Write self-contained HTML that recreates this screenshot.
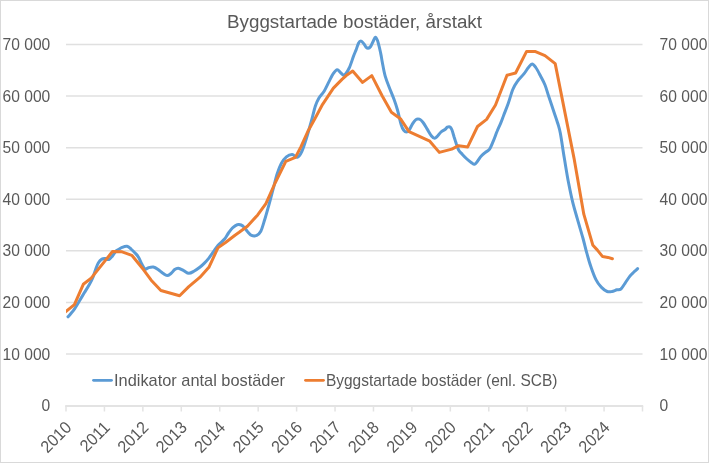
<!DOCTYPE html>
<html><head><meta charset="utf-8"><style>
html,body{margin:0;padding:0;background:#fff;}
body{width:709px;height:463px;overflow:hidden;position:relative;}
.frame{position:absolute;left:0;top:0;width:707px;height:461px;border:1px solid #d9d9d9;}
svg{position:absolute;left:0;top:0;}
.wrap{position:absolute;left:0;top:0;width:709px;height:463px;background:#fff;will-change:transform;}
text{font-family:"Liberation Sans", sans-serif;fill:#595959;}
</style></head><body>
<div class="wrap"><svg width="709" height="463" viewBox="0 0 709 463">
<line x1="66.0" y1="354.01" x2="642.5" y2="354.01" stroke="#e0e0e0" stroke-width="1.5"/>
<line x1="66.0" y1="302.43" x2="642.5" y2="302.43" stroke="#e0e0e0" stroke-width="1.5"/>
<line x1="66.0" y1="250.84" x2="642.5" y2="250.84" stroke="#e0e0e0" stroke-width="1.5"/>
<line x1="66.0" y1="199.26" x2="642.5" y2="199.26" stroke="#e0e0e0" stroke-width="1.5"/>
<line x1="66.0" y1="147.67" x2="642.5" y2="147.67" stroke="#e0e0e0" stroke-width="1.5"/>
<line x1="66.0" y1="96.09" x2="642.5" y2="96.09" stroke="#e0e0e0" stroke-width="1.5"/>
<line x1="66.0" y1="44.50" x2="642.5" y2="44.50" stroke="#e0e0e0" stroke-width="1.5"/>
<line x1="65.2" y1="406" x2="643.2" y2="406" stroke="#e3e3e3" stroke-width="2"/>
<line x1="66.00" y1="406" x2="66.00" y2="411.5" stroke="#e3e3e3" stroke-width="1.5"/>
<line x1="104.43" y1="406" x2="104.43" y2="411.5" stroke="#e3e3e3" stroke-width="1.5"/>
<line x1="142.87" y1="406" x2="142.87" y2="411.5" stroke="#e3e3e3" stroke-width="1.5"/>
<line x1="181.30" y1="406" x2="181.30" y2="411.5" stroke="#e3e3e3" stroke-width="1.5"/>
<line x1="219.73" y1="406" x2="219.73" y2="411.5" stroke="#e3e3e3" stroke-width="1.5"/>
<line x1="258.17" y1="406" x2="258.17" y2="411.5" stroke="#e3e3e3" stroke-width="1.5"/>
<line x1="296.60" y1="406" x2="296.60" y2="411.5" stroke="#e3e3e3" stroke-width="1.5"/>
<line x1="335.03" y1="406" x2="335.03" y2="411.5" stroke="#e3e3e3" stroke-width="1.5"/>
<line x1="373.47" y1="406" x2="373.47" y2="411.5" stroke="#e3e3e3" stroke-width="1.5"/>
<line x1="411.90" y1="406" x2="411.90" y2="411.5" stroke="#e3e3e3" stroke-width="1.5"/>
<line x1="450.33" y1="406" x2="450.33" y2="411.5" stroke="#e3e3e3" stroke-width="1.5"/>
<line x1="488.77" y1="406" x2="488.77" y2="411.5" stroke="#e3e3e3" stroke-width="1.5"/>
<line x1="527.20" y1="406" x2="527.20" y2="411.5" stroke="#e3e3e3" stroke-width="1.5"/>
<line x1="565.63" y1="406" x2="565.63" y2="411.5" stroke="#e3e3e3" stroke-width="1.5"/>
<line x1="604.07" y1="406" x2="604.07" y2="411.5" stroke="#e3e3e3" stroke-width="1.5"/>
<line x1="642.50" y1="406" x2="642.50" y2="411.5" stroke="#e3e3e3" stroke-width="1.5"/>
<text transform="translate(50.3,411.20) scale(0.92,1)" text-anchor="end" font-size="17">0</text>
<text transform="translate(659.6,411.20) scale(0.92,1)" font-size="17">0</text>
<text transform="translate(50.3,359.61) scale(0.92,1)" text-anchor="end" font-size="17">10 000</text>
<text transform="translate(659.6,359.61) scale(0.92,1)" font-size="17">10 000</text>
<text transform="translate(50.3,308.03) scale(0.92,1)" text-anchor="end" font-size="17">20 000</text>
<text transform="translate(659.6,308.03) scale(0.92,1)" font-size="17">20 000</text>
<text transform="translate(50.3,256.44) scale(0.92,1)" text-anchor="end" font-size="17">30 000</text>
<text transform="translate(659.6,256.44) scale(0.92,1)" font-size="17">30 000</text>
<text transform="translate(50.3,204.86) scale(0.92,1)" text-anchor="end" font-size="17">40 000</text>
<text transform="translate(659.6,204.86) scale(0.92,1)" font-size="17">40 000</text>
<text transform="translate(50.3,153.27) scale(0.92,1)" text-anchor="end" font-size="17">50 000</text>
<text transform="translate(659.6,153.27) scale(0.92,1)" font-size="17">50 000</text>
<text transform="translate(50.3,101.69) scale(0.92,1)" text-anchor="end" font-size="17">60 000</text>
<text transform="translate(659.6,101.69) scale(0.92,1)" font-size="17">60 000</text>
<text transform="translate(50.3,50.10) scale(0.92,1)" text-anchor="end" font-size="17">70 000</text>
<text transform="translate(659.6,50.10) scale(0.92,1)" font-size="17">70 000</text>
<text transform="translate(68.54,424.46) rotate(-45) scale(0.94,1)" text-anchor="end" font-size="17" dy="5.8">2010</text>
<text transform="translate(106.97,424.46) rotate(-45) scale(0.94,1)" text-anchor="end" font-size="17" dy="5.8">2011</text>
<text transform="translate(145.41,424.46) rotate(-45) scale(0.94,1)" text-anchor="end" font-size="17" dy="5.8">2012</text>
<text transform="translate(183.84,424.46) rotate(-45) scale(0.94,1)" text-anchor="end" font-size="17" dy="5.8">2013</text>
<text transform="translate(222.27,424.46) rotate(-45) scale(0.94,1)" text-anchor="end" font-size="17" dy="5.8">2014</text>
<text transform="translate(260.71,424.46) rotate(-45) scale(0.94,1)" text-anchor="end" font-size="17" dy="5.8">2015</text>
<text transform="translate(299.14,424.46) rotate(-45) scale(0.94,1)" text-anchor="end" font-size="17" dy="5.8">2016</text>
<text transform="translate(337.57,424.46) rotate(-45) scale(0.94,1)" text-anchor="end" font-size="17" dy="5.8">2017</text>
<text transform="translate(376.01,424.46) rotate(-45) scale(0.94,1)" text-anchor="end" font-size="17" dy="5.8">2018</text>
<text transform="translate(414.44,424.46) rotate(-45) scale(0.94,1)" text-anchor="end" font-size="17" dy="5.8">2019</text>
<text transform="translate(452.87,424.46) rotate(-45) scale(0.94,1)" text-anchor="end" font-size="17" dy="5.8">2020</text>
<text transform="translate(491.31,424.46) rotate(-45) scale(0.94,1)" text-anchor="end" font-size="17" dy="5.8">2021</text>
<text transform="translate(529.74,424.46) rotate(-45) scale(0.94,1)" text-anchor="end" font-size="17" dy="5.8">2022</text>
<text transform="translate(568.17,424.46) rotate(-45) scale(0.94,1)" text-anchor="end" font-size="17" dy="5.8">2023</text>
<text transform="translate(606.61,424.46) rotate(-45) scale(0.94,1)" text-anchor="end" font-size="17" dy="5.8">2024</text>
<text x="227" y="27.9" font-size="18" textLength="255" lengthAdjust="spacingAndGlyphs">Byggstartade bostäder, årstakt</text>
<line x1="93.5" y1="380.35" x2="111.5" y2="380.35" stroke="#5b9bd5" stroke-width="2.8" stroke-linecap="round"/>
<text x="114.0" y="386.15" font-size="15.9" textLength="171" lengthAdjust="spacingAndGlyphs">Indikator antal bostäder</text>
<line x1="305.5" y1="380.35" x2="323.5" y2="380.35" stroke="#ed7d31" stroke-width="2.8" stroke-linecap="round"/>
<text x="325.9" y="386.15" font-size="15.9" textLength="231.5" lengthAdjust="spacingAndGlyphs">Byggstartade bostäder (enl. SCB)</text>
<path d="M68.0 316.8 C68.5 316.2 69.8 314.8 70.9 313.5 C72.0 312.2 73.1 311.0 74.4 309.1 C75.7 307.2 77.2 304.7 78.8 302.0 C80.4 299.3 82.3 296.1 84.1 293.1 C85.9 290.2 88.0 287.0 89.5 284.3 C91.0 281.6 92.0 279.7 93.0 277.2 C94.0 274.7 94.8 271.6 95.7 269.2 C96.6 266.8 97.3 264.7 98.3 263.0 C99.3 261.3 100.7 259.8 101.9 259.1 C103.1 258.4 104.2 258.5 105.4 258.6 C106.6 258.7 107.7 259.9 108.9 259.5 C110.1 259.1 111.3 257.3 112.5 255.9 C113.7 254.5 115.1 252.0 116.0 251.0 C116.9 250.0 117.0 250.4 118.0 249.8 C119.0 249.2 120.6 248.0 122.1 247.4 C123.6 246.8 125.5 246.0 127.0 246.3 C128.5 246.6 129.7 247.9 131.1 249.1 C132.5 250.2 134.0 251.8 135.3 253.2 C136.6 254.6 137.7 255.7 138.7 257.4 C139.7 259.1 140.4 261.7 141.5 263.6 C142.6 265.6 143.8 268.4 145.0 269.1 C146.2 269.8 147.0 268.1 148.4 267.7 C149.8 267.3 151.7 266.7 153.3 267.0 C154.9 267.3 156.5 268.4 158.1 269.5 C159.7 270.6 161.4 272.3 162.9 273.3 C164.4 274.3 165.7 275.6 167.1 275.6 C168.5 275.6 169.9 274.3 171.2 273.3 C172.5 272.3 173.5 270.4 174.7 269.5 C175.9 268.6 176.9 268.1 178.3 268.2 C179.7 268.3 181.6 269.5 183.3 270.4 C185.1 271.2 187.0 273.2 188.8 273.3 C190.6 273.4 192.5 272.0 194.3 271.0 C196.1 270.0 198.1 268.6 199.8 267.3 C201.5 266.0 202.9 264.6 204.4 263.1 C205.9 261.6 207.4 260.0 208.9 258.1 C210.4 256.2 212.0 253.8 213.5 251.7 C215.0 249.6 216.2 247.5 218.1 245.3 C220.0 243.2 223.1 240.9 224.8 238.8 C226.5 236.8 227.2 234.8 228.5 233.0 C229.8 231.2 231.2 229.2 232.4 228.0 C233.6 226.8 234.4 226.2 235.5 225.6 C236.6 225.0 237.6 224.5 238.9 224.6 C240.2 224.7 241.8 225.2 243.2 226.3 C244.6 227.5 246.0 230.0 247.4 231.5 C248.8 233.0 249.9 234.8 251.5 235.4 C253.1 236.1 255.1 236.1 256.7 235.4 C258.2 234.7 259.4 234.0 260.8 231.3 C262.2 228.6 263.5 223.4 264.9 219.0 C266.3 214.6 267.6 209.6 269.0 204.6 C270.4 199.6 271.7 194.3 273.1 189.2 C274.5 184.1 275.8 178.1 277.2 173.8 C278.6 169.5 279.8 166.3 281.3 163.5 C282.8 160.7 284.6 158.4 286.4 156.9 C288.2 155.4 290.5 154.5 292.3 154.6 C294.1 154.7 295.7 157.8 297.3 157.3 C298.9 156.8 300.3 154.7 301.8 151.5 C303.3 148.3 305.0 142.8 306.5 138.0 C308.0 133.2 309.5 127.8 311.0 122.5 C312.5 117.2 314.0 110.3 315.3 106.2 C316.6 102.1 317.6 100.4 319.0 98.0 C320.4 95.6 321.9 94.7 323.6 92.0 C325.3 89.3 327.4 84.7 329.0 81.6 C330.6 78.5 332.0 75.4 333.4 73.4 C334.8 71.4 335.9 69.8 337.2 69.7 C338.4 69.6 339.7 72.1 340.9 73.0 C342.1 73.9 342.8 75.9 344.2 75.1 C345.6 74.3 347.7 71.1 349.2 68.0 C350.7 64.9 352.3 59.5 353.4 56.5 C354.5 53.5 355.1 52.3 356.0 50.1 C356.9 47.9 357.7 44.7 358.5 43.2 C359.3 41.7 360.0 41.1 360.9 41.1 C361.8 41.1 362.8 42.5 363.6 43.5 C364.5 44.5 365.2 46.3 366.0 47.1 C366.8 47.9 367.3 48.4 368.1 48.3 C368.9 48.2 369.8 47.6 370.6 46.5 C371.4 45.4 372.2 43.2 373.0 41.7 C373.8 40.2 374.6 37.4 375.4 37.2 C376.1 37.0 376.9 39.0 377.5 40.5 C378.1 42.0 378.4 43.7 379.0 45.9 C379.6 48.1 380.2 51.1 380.8 53.8 C381.4 56.5 381.6 58.6 382.3 62.3 C383.0 66.0 384.0 72.0 385.2 76.2 C386.4 80.4 387.8 83.7 389.3 87.5 C390.8 91.3 392.6 95.5 394.0 99.2 C395.4 103.0 396.3 105.7 397.5 110.0 C398.7 114.3 400.1 121.4 401.2 124.8 C402.2 128.2 402.9 129.1 403.8 130.3 C404.7 131.5 405.5 132.0 406.4 132.0 C407.3 132.0 408.0 131.7 409.0 130.3 C410.0 129.0 411.4 125.7 412.5 123.9 C413.6 122.1 414.8 120.4 415.9 119.6 C417.0 118.8 418.2 118.8 419.4 119.2 C420.6 119.6 421.6 120.6 422.9 122.2 C424.2 123.8 425.8 126.8 427.2 129.1 C428.6 131.4 430.3 134.5 431.5 136.0 C432.7 137.5 433.6 138.3 434.6 138.3 C435.6 138.3 436.5 137.1 437.6 136.0 C438.7 134.9 439.8 133.1 441.0 132.0 C442.2 130.9 443.9 130.3 445.0 129.5 C446.1 128.7 446.5 127.6 447.3 127.2 C448.1 126.8 449.1 126.5 449.8 126.9 C450.6 127.3 451.1 127.8 451.8 129.5 C452.5 131.2 453.4 134.6 454.1 137.0 C454.9 139.4 455.6 141.7 456.3 143.8 C457.1 146.0 457.6 148.1 458.6 149.9 C459.6 151.7 461.0 152.9 462.4 154.4 C463.8 155.9 465.4 157.6 466.9 159.0 C468.4 160.4 470.2 161.8 471.5 162.7 C472.8 163.6 473.5 164.6 474.5 164.3 C475.5 164.1 476.4 162.6 477.5 161.2 C478.6 159.8 480.0 157.3 481.3 155.9 C482.6 154.5 483.7 153.7 485.1 152.6 C486.5 151.5 488.2 151.1 489.6 149.1 C491.0 147.1 492.1 143.8 493.4 140.8 C494.7 137.8 495.9 134.0 497.2 131.0 C498.4 128.0 499.8 125.3 500.9 122.7 C502.0 120.1 502.5 118.4 503.7 115.2 C504.9 112.0 506.8 107.6 508.3 103.3 C509.8 99.0 511.3 93.2 512.8 89.5 C514.3 85.8 515.5 83.9 517.4 81.3 C519.2 78.7 522.1 76.2 523.9 73.9 C525.7 71.6 527.0 69.2 528.4 67.5 C529.8 65.8 530.9 63.9 532.1 63.9 C533.3 63.9 534.4 65.5 535.8 67.5 C537.2 69.5 538.9 72.9 540.4 75.8 C541.9 78.7 543.6 81.6 545.0 85.0 C546.4 88.4 547.2 91.9 548.6 96.0 C550.0 100.1 551.7 105.1 553.2 109.7 C554.7 114.3 556.6 119.5 557.8 123.5 C559.0 127.5 559.3 127.7 560.4 133.5 C561.5 139.3 562.9 149.8 564.3 158.1 C565.7 166.3 567.1 175.4 568.6 183.0 C570.1 190.6 571.5 197.5 573.0 203.4 C574.5 209.3 575.6 212.8 577.3 218.6 C578.9 224.4 581.3 232.2 582.9 238.0 C584.5 243.8 585.5 248.6 586.9 253.4 C588.2 258.2 589.5 262.8 591.0 267.1 C592.5 271.4 594.0 275.9 595.8 279.3 C597.5 282.7 599.6 285.4 601.5 287.4 C603.4 289.4 605.5 290.8 607.2 291.5 C609.0 292.2 610.4 291.8 612.0 291.5 C613.6 291.2 615.4 290.2 616.9 289.8 C618.4 289.4 619.5 290.1 620.9 289.0 C622.2 287.9 623.5 285.4 625.0 283.3 C626.5 281.2 628.4 278.0 629.9 276.1 C631.4 274.2 632.6 273.2 633.9 272.0 C635.2 270.8 637.0 269.2 637.6 268.6" fill="none" stroke="#5b9bd5" stroke-width="3" stroke-linecap="round" stroke-linejoin="round"/>
<clipPath id="pc"><rect x="66" y="0" width="643" height="463"/></clipPath>
<path d="M65.5 311.8 L74.4 304.6 L83.3 284.3 L91.2 278.1 L112.5 251.5 L122.1 251.8 L131.8 255.3 L143.6 269.8 L151.2 280.2 L160.9 290.5 L179.6 295.7 L188.8 286.6 L199.8 277.4 L208.9 267.3 L217.9 247.9 L225.5 242.5 L235.0 235.2 L239.2 232.3 L247.4 226.2 L257.7 214.9 L265.9 203.6 L275.1 183.0 L285.8 161.4 L295.4 157.4 L301.0 146.6 L307.8 131.5 L315.0 118.5 L322.6 104.3 L333.4 88.1 L342.0 79.4 L346.2 75.6 L352.7 71.1 L362.6 82.4 L371.8 75.6 L382.1 95.7 L391.4 112.2 L400.4 118.7 L409.0 131.7 L429.8 141.2 L439.3 152.4 L451.8 149.1 L458.6 145.7 L467.7 146.9 L477.5 126.5 L486.6 119.4 L495.5 105.0 L507.0 75.2 L515.6 73.0 L526.6 51.4 L534.9 51.4 L545.0 55.6 L555.2 63.6 L574.0 158.1 L583.8 214.2 L592.9 245.3 L597.4 250.1 L602.6 256.6 L608.0 257.4 L612.4 258.7" fill="none" stroke="#ed7d31" stroke-width="3" stroke-linecap="round" stroke-linejoin="round" clip-path="url(#pc)"/>
</svg></div>
<div class="frame"></div>
</body></html>
